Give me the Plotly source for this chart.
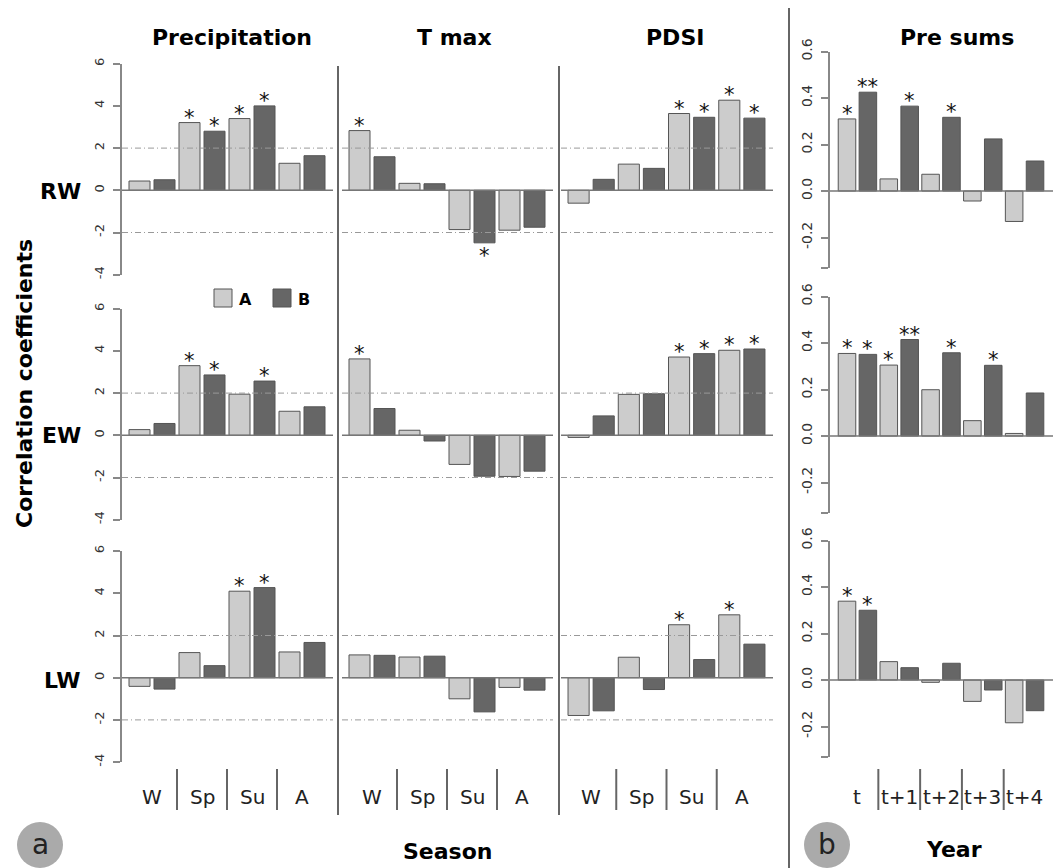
import plotly.graph_objects as go

# ---------------- data ----------------
rows = ["RW", "EW", "LW"]
seasons = ["W", "Sp", "Su", "A"]
years = ["t", "t+1", "t+2", "t+3", "t+4"]
panel_titles = ["Precipitation", "T max", "PDSI", "Pre sums"]

prec_A = [[0.44, 3.21, 3.40, 1.28], [0.27, 3.30, 1.95, 1.14], [-0.41, 1.19, 4.10, 1.22]]
prec_B = [[0.50, 2.80, 4.00, 1.64], [0.56, 2.86, 2.57, 1.35], [-0.54, 0.57, 4.27, 1.67]]
prec_A_sig = [["", "*", "*", ""], ["", "*", "", ""], ["", "", "*", ""]]
prec_B_sig = [["", "*", "*", ""], ["", "*", "*", ""], ["", "", "*", ""]]

tmax_A = [[2.83, 0.33, -1.86, -1.89], [3.62, 0.24, -1.38, -1.95], [1.08, 0.98, -1.00, -0.46]]
tmax_B = [[1.59, 0.31, -2.49, -1.75], [1.27, -0.27, -1.94, -1.70], [1.06, 1.02, -1.62, -0.59]]
tmax_A_sig = [["*", "", "", ""], ["*", "", "", ""], ["", "", "", ""]]
tmax_B_sig = [["", "", "*", ""], ["", "", "", ""], ["", "", "", ""]]

pdsi_A = [[-0.61, 1.24, 3.64, 4.27], [-0.10, 1.94, 3.71, 4.03], [-1.79, 0.97, 2.51, 2.98]]
pdsi_B = [[0.52, 1.04, 3.46, 3.42], [0.92, 1.97, 3.87, 4.09], [-1.57, -0.56, 0.86, 1.59]]
pdsi_A_sig = [["", "", "*", "*"], ["", "", "*", "*"], ["", "", "*", "*"]]
pdsi_B_sig = [["", "", "*", "*"], ["", "", "*", "*"], ["", "", "", ""]]

pre_A = [[0.310, 0.052, 0.072, -0.043, -0.131], [0.355, 0.305, 0.199, 0.066, 0.011], [0.339, 0.079, -0.010, -0.092, -0.184]]
pre_B = [[0.425, 0.365, 0.317, 0.224, 0.129], [0.351, 0.415, 0.358, 0.304, 0.185], [0.300, 0.053, 0.072, -0.043, -0.132]]
pre_A_sig = [["*", "", "", "", ""], ["*", "*", "", "", ""], ["*", "", "", "", ""]]
pre_B_sig = [["**", "*", "*", "", ""], ["*", "**", "*", "*", ""], ["*", "", "", "", ""]]

a_ticks = [-4, -2, 0, 2, 4, 6]
a_ticktext = ["-4", "-2", "0", "2", "4", "6"]
b_ticks = [-0.33, -0.2, 0.0, 0.2, 0.4, 0.6]
b_ticktext = ["", "-0.2", "0.0", "0.2", "0.4", "0.6"]
sig_level = 2

# ---------------- layout helpers ----------------
OFF = 8  # page body margin
W, H = 1063 - OFF, 868 - OFF
def px(x):
    return (x - OFF) / W
def py(y):
    return 1 - (y - OFF) / H

LIGHT = "#cccccc"
DARK = "#666666"
EDGE = "#555555"
FONT = "DejaVu Sans"

col_dom = [(122, 333), (342, 553), (561, 773), (830, 1053)]
col_rng = [(-0.7, 7.74), (-0.7, 7.74), (-0.7, 7.74), (-0.814, 9.86)]
zero_a = [190.3, 435.3, 677.7]
unit_a = 21.1
zero_b = [191, 436, 680]
unit_b = 232.5

panels = [
    (prec_A, prec_B, prec_A_sig, prec_B_sig),
    (tmax_A, tmax_B, tmax_A_sig, tmax_B_sig),
    (pdsi_A, pdsi_B, pdsi_A_sig, pdsi_B_sig),
    (pre_A, pre_B, pre_A_sig, pre_B_sig),
]

fig = go.Figure()
layout = {}
shapes = []
annotations = []

def ann(x, y, text, size, color="#000000", **kw):
    d = dict(x=px(x), y=py(y), xref="paper", yref="paper", text=text, showarrow=False,
             xanchor="center", yanchor="middle",
             font=dict(family=FONT, size=size, color=color))
    d.update(kw)
    annotations.append(d)

for r in range(3):
    for c in range(4):
        i = r * 4 + c + 1
        xa = "x" if i == 1 else f"x{i}"
        ya = "y" if i == 1 else f"y{i}"
        A, B, As, Bs = panels[c]
        vA, vB = A[r], B[r]
        n = len(vA)
        xA = [2 * k for k in range(n)]
        xB = [2 * k + 1 for k in range(n)]
        for xs, vs, col, name in ((xA, vA, LIGHT, "A"), (xB, vB, DARK, "B")):
            fig.add_trace(go.Bar(x=xs, y=vs, width=0.84, name=name, showlegend=False,
                                 marker=dict(color=col, line=dict(color=EDGE, width=1)),
                                 xaxis=xa, yaxis=ya, hoverinfo="x+y"))
        # stars
        for xs, vs, ss in ((xA, vA, As[r]), (xB, vB, Bs[r])):
            for xx, vv, s in zip(xs, vs, ss):
                if s:
                    annotations.append(dict(x=xx, y=vv, xref=xa, yref=ya, text=s,
                                            showarrow=False, xanchor="center",
                                            yanchor="bottom" if vv >= 0 else "top",
                                            yshift=-9 if vv >= 0 else 1,
                                            font=dict(family=FONT, size=21, color="#111111")))
        d0, d1 = col_dom[c]
        layout["xaxis" if i == 1 else f"xaxis{i}"] = dict(
            domain=[px(d0), px(d1)], range=list(col_rng[c]), anchor=ya,
            visible=False, fixedrange=True, automargin=False)
        if c < 3:
            top = zero_a[r] - 6 * unit_a
            bot = zero_a[r] + 4 * unit_a
            yax = dict(domain=[py(bot), py(top)], range=[-4, 6], anchor=xa,
                       showgrid=False, zeroline=False, automargin=False)
            if c == 0:
                yax.update(showline=True, linecolor="#888888", linewidth=1.5,
                           ticks="outside", ticklen=7, tickcolor="#888888", tickwidth=1.5,
                           tickvals=a_ticks, ticktext=a_ticktext, tickangle=-90,
                           ticklabelstandoff=4,
                           tickfont=dict(family=FONT, size=13, color="#333333"))
            else:
                yax.update(visible=False)
            # significance lines
            for lv in (sig_level, -sig_level):
                shapes.append(dict(type="line", xref=f"{xa} domain", yref=ya,
                                   x0=0, x1=1, y0=lv, y1=lv,
                                   line=dict(color="#999999", width=1, dash="6px,3px,1px,3px")))
        else:
            top = zero_b[r] - 0.6 * unit_b
            bot = zero_b[r] + 0.33 * unit_b
            yax = dict(domain=[py(bot), py(top)], range=[-0.33, 0.6], anchor=xa,
                       showgrid=False, zeroline=False, showline=True, automargin=False,
                       linecolor="#888888", linewidth=1.5, ticks="outside", ticklen=7,
                       tickcolor="#888888", tickwidth=1.5, tickvals=b_ticks,
                       ticktext=b_ticktext, tickangle=-90, ticklabelstandoff=4,
                       tickfont=dict(family=FONT, size=14, color="#333333"))
        layout["yaxis" if i == 1 else f"yaxis{i}"] = yax
        # zero line
        shapes.append(dict(type="line", xref=f"{xa} domain", yref=ya, x0=0, x1=1, y0=0, y1=0,
                           line=dict(color="#777777", width=1.5)))

# panel separators
for x, y0, y1 in ((338, 66, 815), (559, 66, 815), (789, 8, 868)):
    shapes.append(dict(type="line", xref="paper", yref="paper", x0=px(x), x1=px(x),
                       y0=py(y0), y1=py(y1), line=dict(color="#666666", width=2)))

# category labels + group separators on bottom row
for c in range(4):
    i = 8 + c + 1
    xa = f"x{i}"
    labels = seasons if c < 3 else years
    for k, lab in enumerate(labels):
        annotations.append(dict(x=2 * k + 0.5, y=py(797), xref=xa, yref="paper", text=lab,
                                showarrow=False, xanchor="center", yanchor="middle",
                                font=dict(family=FONT, size=20, color="#222222")))
        if k > 0:
            shapes.append(dict(type="line", xref=xa, yref="paper", x0=2 * k - 0.5, x1=2 * k - 0.5,
                               y0=py(769), y1=py(810), line=dict(color="#666666", width=2)))

# titles
for t, x in zip(panel_titles, (232, 454, 675, 957)):
    ann(x, 37, f"<b>{t}</b>", 22)
# row labels
for lab, y in zip(rows, (191, 436, 680)):
    ann(83, y, f"<b>{lab}</b>", 22, xanchor="right")
# axis titles
ann(24, 384, "<b>Correlation coefficients</b>", 22, textangle=-90)
ann(447, 851, "<b>Season</b>", 22)
ann(954, 849, "<b>Year</b>", 22)

# legend
for x0, col, lab in ((214, LIGHT, "A"), (273, DARK, "B")):
    shapes.append(dict(type="rect", xref="paper", yref="paper", x0=px(x0), x1=px(x0 + 18),
                       y0=py(307), y1=py(289), fillcolor=col, line=dict(color=EDGE, width=1)))
    ann(x0 + 23, 299, f"<b>{lab}</b>", 16, xanchor="left")

# panel letters
for cx, cy, lab in ((40, 845, "a"), (827, 845, "b")):
    shapes.append(dict(type="circle", xref="paper", yref="paper", x0=px(cx - 23), x1=px(cx + 23),
                       y0=py(cy + 23), y1=py(cy - 23), fillcolor="#aaaaaa",
                       line=dict(color="#aaaaaa", width=0), layer="below"))
    ann(cx, cy - 1, lab, 28, color="#222222")

fig.update_layout(**layout)
fig.update_layout(width=W, height=H, margin=dict(l=0, r=0, t=0, b=0, autoexpand=False),
                  paper_bgcolor="white", plot_bgcolor="white", barmode="overlay",
                  shapes=shapes, annotations=annotations, showlegend=False,
                  font=dict(family=FONT))
fig.write_html("out.html")
